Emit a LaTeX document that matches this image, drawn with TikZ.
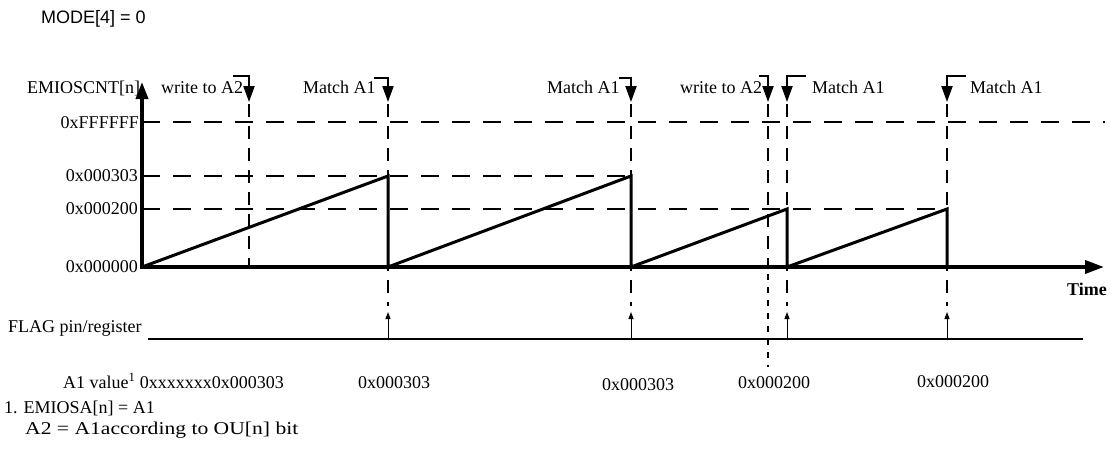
\documentclass[tikz,border=0pt]{standalone}
\usepackage{fontspec}
\setmainfont{Liberation Serif}
\setsansfont{Liberation Sans}
\usetikzlibrary{arrows.meta}
\begin{document}
\begin{tikzpicture}[x=1pt,y=-1pt,
  lbl/.style={inner sep=0pt,anchor=base west,font=\fontsize{18}{20}\selectfont},
  rlbl/.style={inner sep=0pt,anchor=base east,font=\fontsize{18}{20}\selectfont},
  axisline/.style={line width=3.6pt},
  rampline/.style={line width=3pt},
  guide/.style={line width=2pt,dash pattern=on 18pt off 13pt},
  vguide/.style={line width=2pt,dash pattern=on 13pt off 9pt},
  dotguide/.style={line width=2pt,dash pattern=on 6pt off 7pt},
  marker/.style={line width=2pt,-{Triangle[length=16pt,width=11pt]}},
  flagline/.style={line width=2.6pt},
  flagarrow/.style={line width=1pt,-{Triangle[length=7pt,width=5pt]}}]
\useasboundingbox (0,0) rectangle (1118,461);

% key coordinates
\coordinate (O) at (142,267);
\coordinate (ytop) at (142,82);
\coordinate (xend) at (1104,267);

% dashed horizontal guides
\draw[guide] (142,122) -- (1105,122);
\draw[guide] (142,176) -- (631,176);
\draw[guide] (142,209) -- (947,209);

% dashed vertical guides
\draw[vguide] (249,104) -- (249,267);
\foreach \x in {388,631,787,947} \draw[vguide] (\x,104) -- (\x,306);
\draw[vguide] (768,104) -- (768,267);
\draw[dotguide] (768,274) -- (768,367);

% ramps (counter)
\draw[rampline,line join=miter] (O) -- (388,176) -- (388,267) -- (631,176) -- (631,267)
  -- (787,209) -- (787,267) -- (947,209) -- (947,267);

% axes
\draw[axisline,-{Triangle[length=17pt,width=12pt]}] (142,269) -- (ytop);
\draw[axisline,-{Triangle[length=19pt,width=13pt]}] (O) -- (xend);

% event markers
\draw[marker] (233,76) -- (249,76) -- (249,102);
\draw[marker] (374,78) -- (388,78) -- (388,102);
\draw[marker] (619,78) -- (631,78) -- (631,102);
\draw[marker] (759,76) -- (768,76) -- (768,102);
\draw[marker] (806,76) -- (787,76) -- (787,102);
\draw[marker] (966,76) -- (947,76) -- (947,102);

% FLAG line
\draw[flagline] (148,339) -- (1083,339);
\foreach \x in {388,631,787,947} \draw[flagarrow] (\x,339) -- (\x,312);

% texts
\node[lbl,font=\sffamily\fontsize{18}{20}\selectfont] (mode) at (41,23) {MODE[4] = 0};
\node[lbl] (cnt) at (27,93) {EMIOSCNT[n]};
\node[rlbl] (lffff) at (139,128) {0xFFFFFF};
\node[rlbl] (l303) at (138,181) {0x000303};
\node[rlbl] (l200) at (138,214) {0x000200};
\node[rlbl] (l000) at (138,272) {0x000000};

\node[lbl] (w1) at (161,93) {write to A2};
\node[lbl] (m1) at (303,93) {Match A1};
\node[lbl] (m2) at (547,93) {Match A1};
\node[lbl] (w2) at (680,93) {write to A2};
\node[lbl] (m3) at (812,93) {Match A1};
\node[lbl] (m4) at (970,93) {Match A1};

\node[lbl,font=\bfseries\fontsize{18}{20}\selectfont] (time) at (1067,295) {Time};
\node[lbl] (flag) at (8,332) {FLAG pin/register};

\node[lbl] (a1) at (63,388) {A1 value\textsuperscript{1} 0xxxxxxx0x000303};
\node[lbl] (v1) at (358,388) {0x000303};
\node[lbl] (v2) at (602,390) {0x000303};
\node[lbl] (v3) at (738,388) {0x000200};
\node[lbl] (v4) at (917,387) {0x000200};

\node[lbl] (fn1) at (4,413) {1. EMIOSA[n] = A1};
\node[lbl] (fn2) at (25,434) {\scalebox{1.2}[1]{A2 = A1according to OU[n] bit}};
\end{tikzpicture}
\end{document}
